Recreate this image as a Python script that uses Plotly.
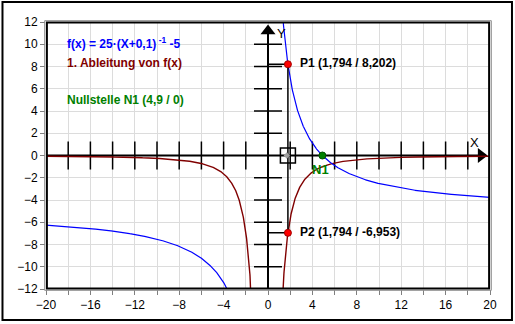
import numpy as np
import plotly.graph_objects as go

# function f(x) = A*(x+B)^-1 + C, as printed on the chart
A, B, C = 25.0, 0.1, -5.0
P_x = 1.794
P1_y = 8.202
P2_y = -6.953
N1 = (4.9, 0.0)

x_ticks_labels = [-20, -16, -12, -8, -4, 0, 4, 8, 12, 16, 20]
y_ticks_labels = [-12, -10, -8, -6, -4, -2, 0, 2, 4, 6, 8, 10, 12]
axis_ticks_x = [-18, -16, -14, -12, -10, -8, -6, -4, -2, 2, 4, 6, 8, 10, 12, 14, 16, 18]
axis_ticks_y = [-10, -8, -6, -4, -2, 2, 4, 6, 8, 10]

xl = np.linspace(-20, -B - 0.02, 1500)
xr = np.linspace(-B + 0.02, 20, 1500)
xs = np.concatenate([xl, [np.nan], xr])
f = A / (xs + B) + C
df = -A / (xs + B) ** 2

fig = go.Figure()
# central axes
fig.add_trace(go.Scatter(x=[-20, 19], y=[0, 0], mode="lines",
                         line=dict(color="black", width=2), hoverinfo="skip"))
fig.add_trace(go.Scatter(x=[0, 0], y=[-12, 11], mode="lines",
                         line=dict(color="black", width=2), hoverinfo="skip"))
fig.add_trace(go.Scatter(x=axis_ticks_x, y=[0] * len(axis_ticks_x), mode="markers",
                         marker=dict(symbol="line-ns-open", size=20, color="black",
                                     line=dict(color="black", width=1.5))))
fig.add_trace(go.Scatter(x=[0] * len(axis_ticks_y), y=axis_ticks_y, mode="markers",
                         marker=dict(symbol="line-ew-open", size=20, color="black",
                                     line=dict(color="black", width=1.5))))
# arrowheads
fig.add_trace(go.Scatter(x=[19.2], y=[0], mode="markers",
                         marker=dict(symbol="triangle-right", size=13, color="black")))
fig.add_trace(go.Scatter(x=[0], y=[11.2], mode="markers",
                         marker=dict(symbol="triangle-up", size=13, color="black")))
# curves
fig.add_trace(go.Scatter(x=xs, y=df, mode="lines", line=dict(color="#800000", width=1.4),
                         connectgaps=False))
fig.add_trace(go.Scatter(x=xs, y=f, mode="lines", line=dict(color="#0000FF", width=1.2),
                         connectgaps=False))
# helper lines to points
fig.add_trace(go.Scatter(x=[0, P_x, P_x, 0], y=[P1_y, P1_y, P2_y, P2_y], mode="lines",
                         line=dict(color="black", width=1.5)))
# square marker on x axis
fig.add_trace(go.Scatter(x=[P_x], y=[0], mode="markers",
                         marker=dict(symbol="square-open", size=15, color="black",
                                     line=dict(color="black", width=1.5))))
fig.add_trace(go.Scatter(x=[P_x - 0.1], y=[0], mode="markers",
                         marker=dict(symbol="diamond", size=5, color="#A0A0A0")))
# points
fig.add_trace(go.Scatter(x=[P_x, P_x], y=[P1_y, P2_y], mode="markers",
                         marker=dict(symbol="circle", size=7, color="#FF0000",
                                     line=dict(color="#A00000", width=1))))
fig.add_trace(go.Scatter(x=[N1[0]], y=[N1[1]], mode="markers",
                         marker=dict(symbol="circle", size=7, color="#008000",
                                     line=dict(color="#005000", width=1))))

font_b = "Liberation Sans"
ann = [
    dict(x=-18.3, y=10.1, text="<b>f(x) = 25·(X+0,1)<sup> -1</sup> -5</b>", color="#0000FF"),
    dict(x=-18.3, y=8.33, text="<b>1. Ableitung von f(x)</b>", color="#800000"),
    dict(x=-18.3, y=5.0, text="<b>Nullstelle N1 (4,9 / 0)</b>", color="#008000"),
    dict(x=2.7, y=8.33, text="<b>P1 (1,794 / 8,202)</b>", color="black"),
    dict(x=2.7, y=-6.85, text="<b>P2 (1,794 / -6,953)</b>", color="black"),
]
for a in ann:
    fig.add_annotation(x=a["x"], y=a["y"], text=a["text"], showarrow=False,
                       xanchor="left", yanchor="middle",
                       font=dict(family=font_b, size=12, color=a["color"]))
fig.add_annotation(x=4.75, y=-1.3, text="<b>N1</b>", showarrow=False,
                   font=dict(family=font_b, size=13, color="#008000"))
fig.add_annotation(x=18.6, y=1.15, text="X", showarrow=False,
                   font=dict(family=font_b, size=13, color="black"))
fig.add_annotation(x=1.25, y=11.0, text="Y", showarrow=False,
                   font=dict(family=font_b, size=13, color="black"))

# frames
fig.add_shape(type="rect", xref="paper", yref="paper", x0=-0.003, x1=1.003,
              y0=-0.005, y1=1.005, line=dict(color="#909090", width=1), layer="above")
fig.add_shape(type="rect", xref="paper", yref="paper", x0=0.002, x1=0.998,
              y0=0.002, y1=0.998, line=dict(color="black", width=2), layer="above")
fig.add_shape(type="rect", xref="paper", yref="paper", x0=-0.098, x1=1.0495,
              y0=-0.116, y1=1.0749, line=dict(color="black", width=2))

fig.update_layout(
    width=515, height=324,
    margin=dict(l=46, r=25, t=22, b=35),
    paper_bgcolor="white", plot_bgcolor="white",
    showlegend=False,
    font=dict(family="Liberation Sans", size=12, color="black"),
)
fig.update_xaxes(range=[-20, 20], tickvals=x_ticks_labels, ticks="outside", ticklen=5,
                 tickcolor="#808080", showgrid=True, gridcolor="#DCDCDC", gridwidth=1,
                 minor=dict(dtick=2, tick0=0, showgrid=True, gridcolor="#DCDCDC",
                            ticks="outside", ticklen=5, tickcolor="#808080"),
                 zeroline=False, showline=False, tickfont=dict(size=12))
fig.update_yaxes(range=[-12, 12], tickvals=y_ticks_labels, ticks="outside", ticklen=5,
                 tickcolor="#808080", showgrid=True, gridcolor="#DCDCDC", gridwidth=1,
                 zeroline=False, showline=False, tickfont=dict(size=12))

fig.write_html("out.html")
